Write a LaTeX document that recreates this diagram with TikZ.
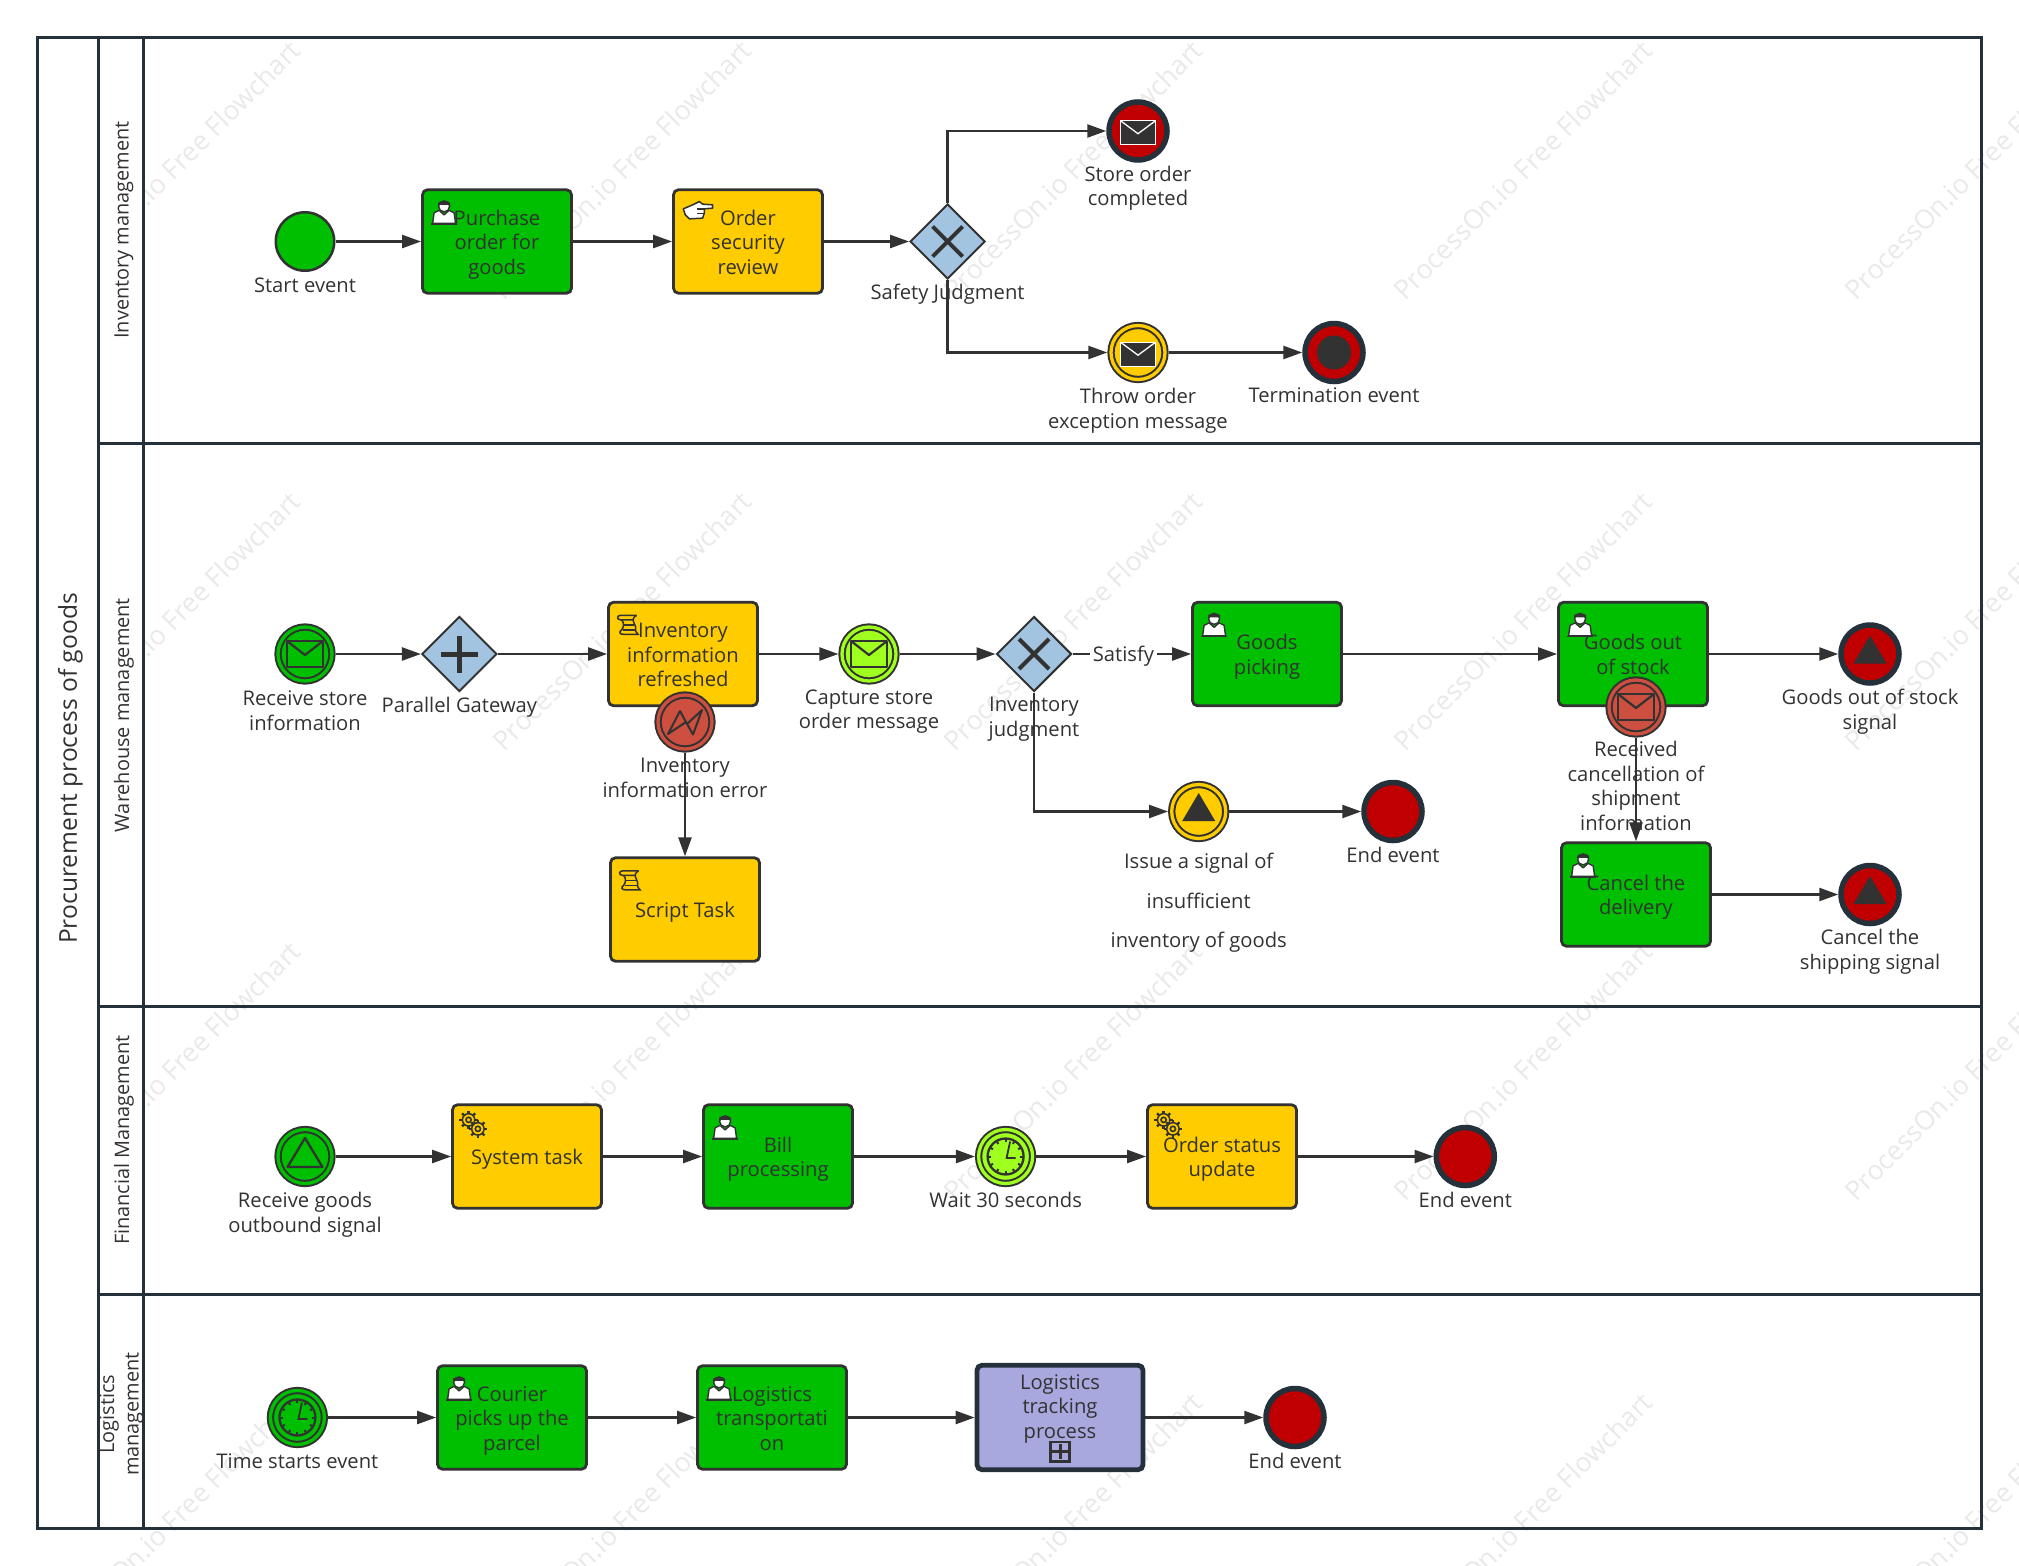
\documentclass[tikz,border=0pt]{standalone}
\usepackage{fontspec}
\setmainfont{Open Sans}
\usetikzlibrary{arrows.meta,shapes.geometric,calc}
\definecolor{ink}{HTML}{323232}
\definecolor{frame}{HTML}{24303A}
\definecolor{tgreen}{HTML}{00BE00}
\definecolor{tyellow}{HTML}{FFCC00}
\definecolor{tred}{HTML}{C00000}
\definecolor{tblue}{HTML}{A2C4E0}
\definecolor{tpurple}{HTML}{A8A8DE}
\definecolor{terr}{HTML}{CC4F3F}
\definecolor{tlime}{HTML}{9FFF1F}
\definecolor{wm}{HTML}{E9E9E9}
\newcommand{\tasktext}[1]{\raisebox{-8.5pt}[0pt][0pt]{\begin{tabular}{@{}c@{}}#1\end{tabular}}}
\tikzset{
  lane/.style={draw=frame,line width=3pt},
  laneh/.style={lane,fill=white},
  rtxt/.style={text=ink,font=\fontsize{20.2}{24.5}\selectfont,align=center,inner sep=0pt},
  lanetxt/.style={rtxt,font=\fontsize{19.9}{24.5}\selectfont},
  txt/.style={rtxt,yshift=-2.5pt},
  issuetxt/.style={text=ink,font=\fontsize{20.2}{39.5}\selectfont,align=center,inner sep=0pt,yshift=-2.5pt},
  task/.style={rectangle,rounded corners=5pt,draw=ink,line width=2.8pt,minimum width=149pt,minimum height=103.5pt,inner sep=0pt,text=ink,font=\fontsize{20.2}{24.5}\selectfont},
  gtask/.style={task,fill=tgreen},
  ytask/.style={task,fill=tyellow},
  gate/.style={diamond,aspect=1,draw=ink,line width=2pt,fill=tblue,minimum width=75pt,minimum height=75pt,inner sep=0pt},
  endev/.style={circle,draw=frame,line width=5.5pt,fill=tred,minimum size=58pt,inner sep=0pt},
  startev/.style={circle,draw=ink,line width=2.5pt,minimum size=58.5pt,inner sep=0pt},
  dblev/.style={circle,draw=ink,line width=2pt,double=#1,double distance=3.3pt,fill=#1,minimum size=54pt,inner sep=0pt,outer sep=3.65pt},
  flow/.style={draw=ink,line width=2.4pt,-{Triangle[length=19pt,width=13pt]}},
  userico/.pic={
    \draw[ink,line width=1.4pt,fill=white,line join=round] (-11.5,10.5) -- (-10,0) -- (-5,-2.5) -- (0,2) -- (5,-2.5) -- (10,0) -- (11.5,10.5) -- cycle;
    \draw[ink,line width=1.4pt,fill=white] (0,-6.5) circle (5.5);
    \fill[ink] (-6,-8) -- (-6,-10) .. controls (-4,-12.5) and (4,-12.5) .. (6,-10) -- (6,-8) -- cycle;
    \draw[ink,line width=1.6pt] (-13,11) -- (13,11);
  },
  handico/.pic={
    \draw[ink,line width=1.5pt,fill=white,line join=round] (-14.3,-2) -- (-5,-6) -- (1.7,-9.3) -- (5,-6.7) -- (15,-6) -- (15,-2.7) -- (6.7,-2) -- (6.7,2.3) -- (5,7.3) -- (-8.3,8) -- (-12.3,4) -- cycle;
    \draw[ink,line width=1.3pt] (6.7,-2) -- (-1,-2) (6.7,2.3) -- (-1,2.3);
  },
  scrollico/.pic={
    \draw[ink,line width=1.5pt] (9,-9.5) -- (-7,-9.5) .. controls (-11,-9.5) and (-11,-5) .. (-7,-5) -- (5.5,-5);
    \draw[ink,line width=1.5pt] (-6,-5) .. controls (-3,-2) and (-4,3) .. (-6,5) .. controls (-9,7) and (-8,9.5) .. (-4,9.5) -- (10.5,9.5) .. controls (7,6) and (8,5) .. (8,2) .. controls (8,0) and (2,-6) .. (9,-9.5);
    \draw[ink,line width=1.3pt] (-4,0) -- (6.5,0) (-5,5) -- (8,5);
  },
  gearico/.pic={
    \foreach \cx/\cy in {-4.5/-4,4.8/5}{
      \foreach \a in {0,45,...,315}
        \draw[ink,line width=2.4pt] (\cx,\cy) ++(\a:5.5) -- ++(\a:3.8);
      \draw[ink,line width=1.5pt,fill=tyellow] (\cx,\cy) circle (6.2);
      \draw[ink,line width=1.6pt] (\cx,\cy) circle (2.6);
    }
  },
  envd/.pic={
    \draw[white,line width=1.3pt,fill=ink] (-17.5,-10.3) rectangle (17.5,13.7);
    \draw[white,line width=1.3pt] (-17.5,-10.3) -- (0,2.7) -- (17.5,-10.3);
  },
  envo/.pic={
    \draw[ink,line width=2.2pt,line join=round] (-18,-13) rectangle (18,13);
    \draw[ink,line width=2.2pt,line join=round] (-18,-13) -- (0,1) -- (18,-13);
  },
  trid/.pic={\fill[ink] (-16.5,9.5) -- (0,-18.5) -- (16.5,9.5) -- cycle;},
  trio/.pic={\draw[ink,line width=2.3pt,line join=round] (-17.5,10.5) -- (0,-18.5) -- (17.5,10.5) -- cycle;},
  boltico/.pic={\draw[ink,line width=2pt,line join=round] (-17,12) -- (-5,-11) -- (2,2) -- (17,-12) -- (8,12.5) -- (1,0) -- cycle;},
  clockico/.pic={
    \draw[ink,line width=2.3pt] (0,0) circle (18);
    \foreach \a in {0,30,...,330} \draw[ink,line width=2pt] (\a:18) -- (\a:14.5);
    \draw[ink,line width=1.8pt] (4.5,-15) -- (1,1.5) -- (10,1.5);
  },
  xico/.pic={\draw[ink,line width=4pt] (-15,-15) -- (15,15) (-15,15) -- (15,-15);},
  plusico/.pic={\draw[ink,line width=5pt] (-18.5,0) -- (18.5,0) (0,-18.5) -- (0,18.5);},
}
\begin{document}
\begin{tikzpicture}[x=1pt,y=-1pt]
\path[use as bounding box] (0,0) rectangle (2019,1566);
\clip (0,0) rectangle (2019,1566);
% watermark
\foreach \wx in {171,622,1073,1523,1974}
  \foreach \wy in {170,621,1071,1522}
    \node[rotate=45,text=wm,font=\fontsize{26.7}{30}\selectfont,inner sep=0pt] (wm\wx-\wy) at (\wx,\wy) {ProcessOn.io Free Flowchart};
% frames
\draw[laneh] (37,37) rectangle (98,1528);
\draw[lane] (98,37) rectangle (1981.5,443);
\draw[lane] (98,443) rectangle (1981.5,1006);
\draw[lane] (98,1006) rectangle (1981.5,1294);
\draw[lane] (98,1294) rectangle (1981.5,1528);
\draw[laneh] (98,37) rectangle (143,443);
\draw[laneh] (98,443) rectangle (143,1006);
\draw[laneh] (98,1006) rectangle (143,1294);
\draw[laneh] (98,1294) rectangle (143,1528);
\node[rtxt,font=\fontsize{24.6}{30}\selectfont,rotate=90] (title) at (70.5,768.5) {Procurement process of goods};
\node[lanetxt,rotate=90] (l1) at (124,230) {Inventory management};
\node[lanetxt,rotate=90] (l2) at (124,715) {Warehouse management};
\node[lanetxt,rotate=90] (l3) at (124,1140) {Financial Management};
\node[lanetxt,rotate=90] (l4) at (121.5,1414) {Logistics\\management};

% lane 1
\node[startev,fill=tgreen] (start) at (305,241.5) {};
\node[gtask] (purchase) at (497,241.5) {\tasktext{Purchase\\order for\\goods}};
\node[ytask] (order) at (748,241.5) {\tasktext{Order\\security\\review}};
\node[gate] (safety) at (947.6,241.5) {};
\node[endev] (store) at (1138,131) {};
\node[dblev=tyellow] (throw) at (1138,352.5) {};
\node[endev] (term) at (1334,352.5) {};
\node[txt] (tstart) at (305,282.5) {Start event};
\node[txt] (tsafety) at (947.6,291.7) {Safety Judgment};
\node[txt] (tstore) at (1138,185.5) {Store order\\completed};
\node[txt] (tthrow) at (1138,408) {Throw order\\exception message};
\node[txt] (tterm) at (1334,393) {Termination event};
\pic at ($(purchase.north west)+(23,24.5)$) {userico};
\pic at ($(order.north west)+(25.5,22.5)$) {handico};
\pic at (safety) {xico};
\pic at (store) {envd};
\pic at (throw) {envd};
\fill[ink] (term) circle (17);

% lane 2
\node[dblev=tgreen] (recv) at (305,654) {};
\node[gate] (par) at (459.4,654) {};
\node[ytask] (inv) at (683,654) {\tasktext{Inventory\\information\\refreshed}};
\node[dblev=terr] (err) at (685,722) {};
\node[ytask] (script) at (685,909.5) {\tasktext{Script Task}};
\node[dblev=tlime] (capt) at (869,654) {};
\node[gate] (judge) at (1034,654) {};
\node[gtask] (pick) at (1267,654) {\tasktext{Goods\\picking}};
\node[gtask] (outst) at (1633,654) {\tasktext{Goods out\\of stock}};
\node[dblev=terr] (rcv2) at (1636,707) {};
\node[gtask] (cancel) at (1636,894.5) {\tasktext{Cancel the\\delivery}};
\node[endev] (ev1) at (1870,654) {};
\node[endev] (ev2) at (1870,894.5) {};
\node[dblev=tyellow] (issue) at (1198.7,811.5) {};
\node[endev] (end2) at (1393,811.5) {};
\node[txt] (trecv) at (305,708) {Receive store\\information};
\node[txt] (tpar) at (459.4,705) {Parallel Gateway};
\node[txt] (terrl) at (685,775.5) {Inventory\\information error};
\node[txt] (tcapt) at (869,709) {Capture store\\order message};
\node[txt] (tjudge) at (1034,716.5) {Inventory\\judgment};
\node[issuetxt] (tissue) at (1198.7,900.5) {Issue a signal of\\insufficient\\inventory of goods};
\node[txt] (tend2) at (1393,852) {End event};
\node[txt] (trcv2) at (1636,783.5) {Received\\cancellation of\\shipment\\information};
\node[txt] (tev1) at (1870,709) {Goods out of stock\\signal};
\node[txt] (tev2) at (1870,949) {Cancel the\\shipping signal};
\pic at (recv) {envo};
\pic at (par) {plusico};
\pic at ($(inv.north west)+(20.5,24)$) {scrollico};
\pic at (err) {boltico};
\pic at ($(script.north west)+(20.5,24)$) {scrollico};
\pic at (capt) {envo};
\pic at (judge) {xico};
\pic at ($(pick.north west)+(23,24.5)$) {userico};
\pic at ($(outst.north west)+(23,24.5)$) {userico};
\pic at (rcv2) {envo};
\pic at ($(cancel.north west)+(23,24.5)$) {userico};
\pic at (ev1) {trid};
\pic at (ev2) {trid};
\pic at (issue) {trid};

% lane 3
\node[dblev=tgreen] (rgood) at (305,1156.5) {};
\node[ytask] (sys) at (527,1156.5) {\tasktext{System task}};
\node[gtask] (bill) at (778,1156.5) {\tasktext{Bill\\processing}};
\node[dblev=tlime] (wait) at (1005.6,1156.5) {};
\node[ytask] (upd) at (1222,1156.5) {\tasktext{Order status\\update}};
\node[endev] (end3) at (1465.3,1156.5) {};
\node[txt] (trgood) at (305,1212) {Receive goods\\outbound signal};
\node[txt] (twait) at (1005.6,1197.5) {Wait 30 seconds};
\node[txt] (tend3) at (1465.3,1197.5) {End event};
\pic at (rgood) {trio};
\pic at ($(sys.north west)+(22,20.5)$) {gearico};
\pic at ($(bill.north west)+(23,24.5)$) {userico};
\pic at (wait) {clockico};
\pic at ($(upd.north west)+(22,20.5)$) {gearico};

% lane 4
\node[dblev=tgreen] (time) at (297.4,1417.5) {};
\node[gtask] (cour) at (512,1417.5) {\tasktext{Courier\\picks up the\\parcel}};
\node[gtask] (logi) at (772,1417.5) {\tasktext{Logistics\\transportati\\on}};
\node[rectangle,rounded corners=5pt,draw=frame,line width=4.8pt,fill=tpurple,minimum width=166pt,minimum height=104.5pt,inner sep=0pt] (track) at (1060,1417.5) {};
\node[txt] (ttrack) at (1060,1406) {Logistics\\tracking\\process};
\node[rectangle,draw=ink,line width=2.8pt,minimum size=19.5pt,inner sep=0pt] (plus) at (1060,1451.7) {};
\node[endev] (end4) at (1295,1417.5) {};
\node[txt] (ttime) at (297.4,1458.5) {Time starts event};
\node[txt] (tend4) at (1295,1458.5) {End event};
\draw[ink,line width=3pt] ($(plus.west)+(3.5,0)$) -- ($(plus.east)+(-3.5,0)$) ($(plus.north)+(0,3.5)$) -- ($(plus.south)+(0,-3.5)$);
\pic at (time) {clockico};
\pic at ($(cour.north west)+(23,24.5)$) {userico};
\pic at ($(logi.north west)+(23,24.5)$) {userico};

% connectors
\draw[flow] (start) -- (purchase);
\draw[flow] (purchase) -- (order);
\draw[flow] (order) -- (safety);
\draw[flow] (safety.north) |- (store);
\draw[flow] (safety.south) |- (throw);
\draw[flow] (throw) -- (term);
\draw[flow] (recv) -- (par);
\draw[flow] (par) -- (inv);
\draw[flow] (inv) -- (capt);
\draw[flow] (err) -- (script);
\draw[flow] (capt) -- (judge);
\draw[flow] (judge) -- (pick);
\node[rtxt,fill=white,inner xsep=3pt,inner ysep=2pt] (sat) at (1123.5,656.5) {Satisfy};
\draw[flow] (pick) -- (outst);
\draw[flow] (outst) -- (ev1);
\draw[flow] (rcv2) -- (cancel);
\draw[flow] (cancel) -- (ev2);
\draw[flow] (judge.south) |- (issue);
\draw[flow] (issue) -- (end2);
\draw[flow] (rgood) -- (sys);
\draw[flow] (sys) -- (bill);
\draw[flow] (bill) -- (wait);
\draw[flow] (wait) -- (upd);
\draw[flow] (upd) -- (end3);
\draw[flow] (time) -- (cour);
\draw[flow] (cour) -- (logi);
\draw[flow] (logi) -- (track);
\draw[flow] (track) -- (end4);
\end{tikzpicture}
\end{document}
